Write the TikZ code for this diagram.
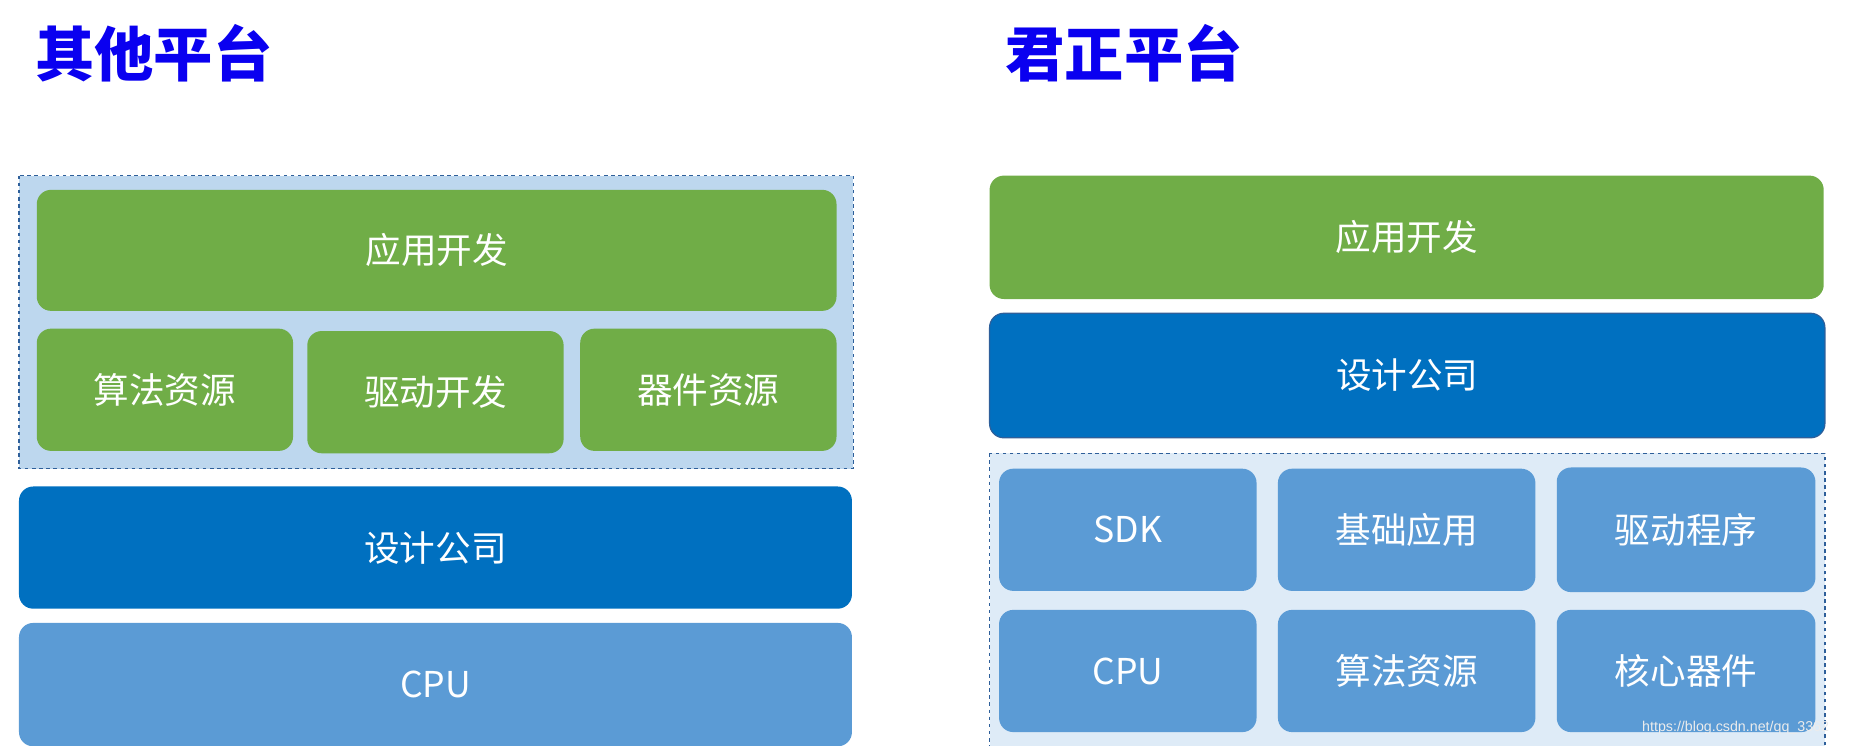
\documentclass[tikz,border=0pt]{standalone}
\usepackage{fontspec}
\setmainfont{Liberation Sans}
\newfontfamily\cjk{Noto Sans CJK SC}
\definecolor{grn}{HTML}{70AD47}
\definecolor{dblue}{HTML}{0070C0}
\definecolor{mblue}{HTML}{5B9BD5}
\definecolor{lblue}{HTML}{BDD7EE}
\definecolor{llblue}{HTML}{DEEBF7}
\definecolor{edge}{HTML}{2E5F9A}
\definecolor{ttl}{HTML}{0A00F0}
\tikzset{
  box/.style={rounded corners=12pt,text=white,font=\cjk\fontsize{30}{34}\selectfont},
  grp/.style={draw=edge,dashed,line width=1pt},
}
\newcommand{\bx}[6]{\fill[#6,rounded corners=12pt] (#1,#2) rectangle (#3,#4);
  \node[box] at ({(#1+#3)/2},{(#2+#4)/2}) {#5};}
\begin{document}
\begin{tikzpicture}[x=1pt,y=-1pt]
\useasboundingbox (0,0) rectangle (1560,628);
\node[text=ttl,font=\cjk\bfseries\fontsize{50}{56}\selectfont,anchor=west] (t1) at (26,45) {其他平台};
\node[text=ttl,font=\cjk\bfseries\fontsize{50}{56}\selectfont,anchor=west] (t2) at (844,45) {君正平台};
% left
\draw[grp,fill=lblue] (16,148) rectangle (719,395);
\bx{31}{160}{705}{262}{应用开发}{grn}
\bx{31}{277}{247}{380}{算法资源}{grn}
\bx{259}{279}{475}{382}{驱动开发}{grn}
\bx{489}{277}{705}{380}{器件资源}{grn}
\bx{16}{410}{718}{513}{设计公司}{dblue}
\bx{16}{525}{718}{629}{CPU}{mblue}
% right
\bx{834}{148}{1537}{252}{应用开发}{grn}
\fill[dblue,draw=edge,line width=1pt,rounded corners=12pt] (834,264) rectangle (1538,369);
\node[box] at (1186,316) {设计公司};
\draw[grp,fill=llblue] (834,382) rectangle (1538,630);
\bx{842}{395}{1059}{498}{SDK}{mblue}
\bx{1077}{395}{1294}{498}{基础应用}{mblue}
\bx{1312}{394}{1530}{499}{驱动程序}{mblue}
\bx{842}{514}{1059}{617}{CPU}{mblue}
\bx{1077}{514}{1294}{617}{算法资源}{mblue}
\bx{1312}{514}{1530}{617}{核心器件}{mblue}
\node[text=white!85!gray,font=\fontsize{12}{14}\selectfont,anchor=east] (wm) at (1545,613) {https://blog.csdn.net/qq\_3362};
\end{tikzpicture}
\end{document}
